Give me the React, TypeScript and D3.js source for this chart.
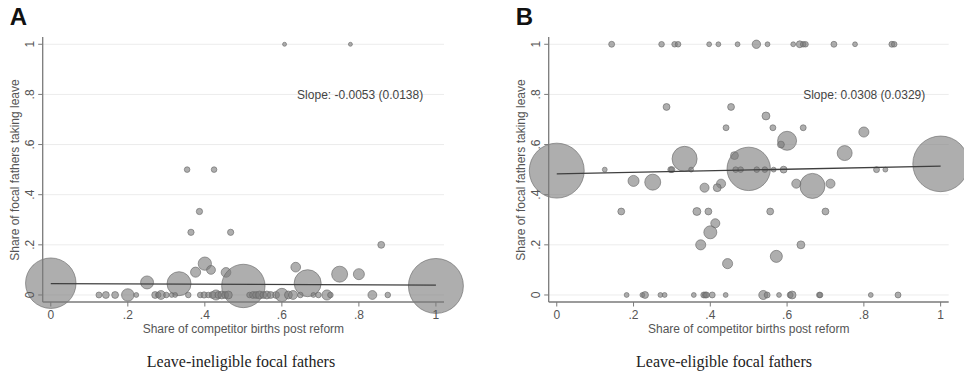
import React from 'react';
import * as d3 from 'd3';

// Panel A: leave-ineligible focal fathers (x = competitor share, y = share taking leave, n = weight)
const ineligibleShare = [
  0.607, 0.778, 0.354, 0.424, 0.386, 0.364, 0.467, 0.858, 0.40, 0.376, 0.416, 0.455, 0.636,
  0.75, 0.80, 0.25, 0.333, 0.667, 0, 0.5, 1,
  0.125, 0.143, 0.167, 0.2, 0.222, 0.271, 0.279, 0.286, 0.30, 0.314, 0.323, 0.357, 0.388,
  0.398, 0.409, 0.42, 0.429, 0.435, 0.444, 0.453, 0.461, 0.516, 0.525, 0.533, 0.542, 0.552,
  0.561, 0.571, 0.585, 0.6, 0.617, 0.629, 0.648, 0.682, 0.695, 0.717, 0.726, 0.835, 0.875,
];
const ineligibleLeave = [
  1, 1, 0.5, 0.5, 0.333, 0.25, 0.25, 0.2, 0.125, 0.091, 0.1, 0.09, 0.111,
  0.083, 0.083, 0.05, 0.045, 0.047, 0.047, 0.036, 0.036,
  0, 0, 0, 0, 0, 0, 0, 0, 0, 0, 0, 0, 0,
  0, 0, 0, 0, 0, 0, 0, 0, 0, 0, 0, 0, 0,
  0, 0, 0, 0, 0, 0, 0, 0, 0, 0, 0, 0, 0,
];
const ineligibleBirths = [
  4, 4, 8, 8, 10, 10, 10, 12, 45, 26, 20, 24, 24,
  65, 31, 43, 147, 186, 650, 480, 770,
  9, 12, 12, 40, 6, 12, 8, 20, 8, 6, 6, 8, 8,
  10, 8, 12, 26, 12, 16, 12, 16, 8, 12, 12, 16, 12,
  16, 12, 12, 45, 16, 20, 8, 6, 8, 26, 8, 20, 8,
];

// Panel B: leave-eligible focal fathers
const eligibleShare = [
  0.143, 0.273, 0.307, 0.316, 0.397, 0.421, 0.471, 0.52, 0.549, 0.616, 0.633, 0.642, 0.648,
  0.722, 0.777, 0.873, 0.879,
  0.286, 0.454, 0.545, 0.441, 0.563, 0.642, 0.80, 0.60, 0.584, 0.75, 0.333, 0.463,
  0.5, 0, 1,
  0.125, 0.297, 0.30, 0.35, 0.466, 0.479, 0.521, 0.542, 0.565, 0.591, 0.833, 0.856,
  0.2, 0.25, 0.624, 0.666, 0.713, 0.428, 0.418, 0.385,
  0.168, 0.365, 0.395, 0.556, 0.70, 0.413, 0.40, 0.375, 0.636, 0.572, 0.445,
  0.182, 0.223, 0.23, 0.27, 0.281, 0.357, 0.383, 0.387, 0.39, 0.405, 0.44, 0.538, 0.548,
  0.579, 0.608, 0.613, 0.684, 0.686, 0.818, 0.889,
];
const eligibleLeave = [
  1, 1, 1, 1, 1, 1, 1, 1, 1, 1, 1, 1, 1,
  1, 1, 1, 1,
  0.75, 0.75, 0.714, 0.667, 0.667, 0.667, 0.65, 0.615, 0.6, 0.566, 0.543, 0.556,
  0.503, 0.496, 0.523,
  0.5, 0.5, 0.5, 0.5, 0.5, 0.5, 0.5, 0.5, 0.5, 0.5, 0.5, 0.5,
  0.455, 0.45, 0.444, 0.435, 0.444, 0.444, 0.428, 0.428,
  0.333, 0.333, 0.333, 0.333, 0.333, 0.286, 0.25, 0.2, 0.2, 0.154, 0.125,
  0, 0, 0, 0, 0, 0, 0, 0, 0, 0, 0, 0, 0,
  0, 0, 0, 0, 0, 0, 0,
];
const eligibleBirths = [
  9, 8, 8, 8, 6, 6, 6, 18, 6, 6, 12, 8, 8,
  9, 6, 9, 8,
  12, 12, 16, 9, 9, 9, 26, 92, 12, 57, 160, 16,
  480, 770, 790,
  6, 9, 9, 6, 8, 8, 8, 8, 6, 12, 9, 6,
  31, 65, 21, 160, 21, 21, 16, 21,
  12, 16, 12, 12, 12, 21, 43, 26, 16, 37, 26,
  6, 6, 12, 6, 6, 6, 9, 9, 9, 9, 6, 21, 9,
  6, 9, 16, 8, 8, 6, 9,
];

// fitted lines: intercept, slope, and their labels
const ineligibleFit = [0.0450, -0.0053];
const eligibleFit = [0.4830, 0.0308];
const ineligibleSlopeLabel = 'Slope: -0.0053 (0.0138)';
const eligibleSlopeLabel = 'Slope: 0.0308 (0.0329)';

const xTicks = [0, 0.2, 0.4, 0.6, 0.8, 1];
const yTicks = [0, 0.2, 0.4, 0.6, 0.8, 1];
const fmt = (v: number) => (v === 0 || v === 1 ? String(v) : String(v).replace(/^0/, ''));

const sans = 'Liberation Sans, Arial, sans-serif';
const axisColor = '#7a7a7a';
const textColor = '#555';

const rScale = d3.scaleSqrt().domain([0, 800]).range([0, 28]);

type PanelProps = {
  x0: number;
  x1: number;
  letter: string;
  caption: string;
  captionX: number;
  xs: number[];
  ys: number[];
  ns: number[];
  fit: number[];
  slopeLabel: string;
  labelX: number;
};

const Panel = ({ x0, x1, letter, caption, captionX, xs, ys, ns, fit, slopeLabel, labelX }: PanelProps) => {
  const top = 37;
  const bottom = 302;
  const xScale = d3.scaleLinear().domain([-0.021, 1.021]).range([x0, x1]);
  const yScale = d3.scaleLinear().domain([-0.028, 1.029]).range([bottom, top]);

  const pts = xs.map((x, i) => ({ x, y: ys[i], n: ns[i] }));
  const fitLine = d3.line<number>()
    .x(d => xScale(d))
    .y(d => yScale(fit[0] + fit[1] * d));

  return (
    <g>
      <text x={x0 - 33} y={25} fontFamily={sans} fontWeight="bold" fontSize={24} fill="#111">{letter}</text>

      {yTicks.map(t => (
        <line key={'g' + t} x1={x0} x2={x1} y1={yScale(t)} y2={yScale(t)} stroke="#ececec" strokeWidth={1} />
      ))}

      {pts.map((p, i) => (
        <circle key={i} cx={xScale(p.x)} cy={yScale(p.y)} r={rScale(p.n)}
          fill="#7c7c7c" fillOpacity={0.62} stroke="#6a6a6a" strokeOpacity={0.8} strokeWidth={0.8} />
      ))}

      <path d={fitLine([0, 1]) || ''} fill="none" stroke="#3f3f3f" strokeWidth={1.3} />

      <text x={xScale(labelX)} y={yScale(0.8)} dy="0.35em" textAnchor="end" fontFamily={sans} fontSize={12} fill="#444">{slopeLabel}</text>

      <line x1={x0} x2={x0} y1={top} y2={bottom} stroke={axisColor} strokeWidth={1.3} />
      <line x1={x0} x2={x1} y1={bottom} y2={bottom} stroke={axisColor} strokeWidth={1.3} />

      {yTicks.map(t => (
        <g key={'y' + t}>
          <line x1={x0 - 4.5} x2={x0} y1={yScale(t)} y2={yScale(t)} stroke={axisColor} strokeWidth={1} />
          <text transform={`translate(${x0 - 13},${yScale(t)}) rotate(-90)`} textAnchor="middle" dominantBaseline="central"
            fontFamily={sans} fontSize={12} fill={textColor}>{fmt(t)}</text>
        </g>
      ))}
      {xTicks.map(t => (
        <g key={'x' + t}>
          <line x1={xScale(t)} x2={xScale(t)} y1={bottom} y2={bottom + 4.5} stroke={axisColor} strokeWidth={1} />
          <text x={xScale(t)} y={315} dominantBaseline="central" textAnchor="middle"
            fontFamily={sans} fontSize={12} fill={textColor}>{fmt(t)}</text>
        </g>
      ))}

      <text transform={`translate(${x0 - 28},${170}) rotate(-90)`} textAnchor="middle" dominantBaseline="central"
        fontFamily={sans} fontSize={12} fill={textColor}>Share of focal fathers taking leave</text>
      <text x={(x0 + x1) / 2} y={329} dominantBaseline="central" textAnchor="middle"
        fontFamily={sans} fontSize={12} fill={textColor}>Share of competitor births post reform</text>

      <text x={captionX} y={367} textAnchor="middle" fontFamily="Liberation Serif, Times New Roman, serif"
        fontSize={16} fill="#222">{caption}</text>
    </g>
  );
};

export default function App() {
  return (
    <div style={{ position: 'absolute', left: 0, top: 0 }}>
      <svg width={964} height={375} style={{ display: 'block', background: '#fff' }}>
        <Panel x0={42.7} x1={444} letter="A" caption="Leave-ineligible focal fathers" captionX={241}
          xs={ineligibleShare} ys={ineligibleLeave} ns={ineligibleBirths} fit={ineligibleFit}
          slopeLabel={ineligibleSlopeLabel} labelX={0.967} />
        <Panel x0={548.7} x1={948.7} letter="B" caption="Leave-eligible focal fathers" captionX={724}
          xs={eligibleShare} ys={eligibleLeave} ns={eligibleBirths} fit={eligibleFit}
          slopeLabel={eligibleSlopeLabel} labelX={0.96} />
      </svg>
    </div>
  );
}
